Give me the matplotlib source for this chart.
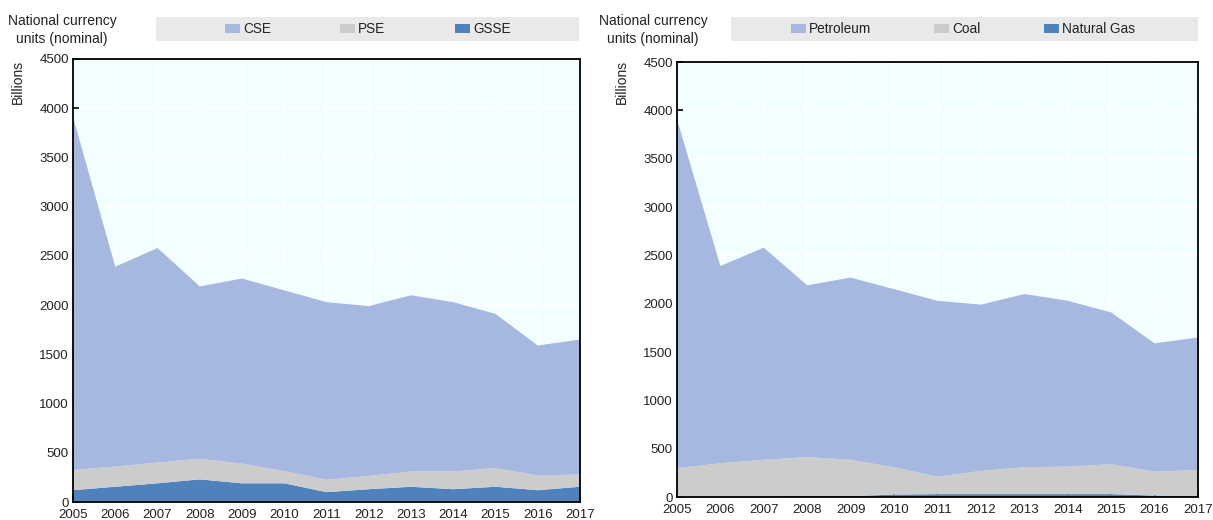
import matplotlib
matplotlib.use('Agg')
import matplotlib.pyplot as plt
from matplotlib.patches import Rectangle

years = list(range(2005, 2018))

# left panel: support by category (billions)
gsse = [120, 155, 190, 230, 190, 190, 100, 130, 155, 130, 155, 120, 155]
pse = [205, 205, 210, 210, 200, 125, 125, 135, 155, 180, 190, 150, 125]
cse = [3585, 2030, 2180, 1750, 1880, 1835, 1805, 1725, 1790, 1720, 1565, 1320, 1370]

# right panel: support by fuel (billions)
gas = [2, 3, 8, 10, 10, 25, 30, 30, 30, 30, 30, 15, 12]
coal = [296, 347, 377, 403, 375, 283, 180, 240, 278, 285, 310, 247, 268]
petroleum = [3612, 2040, 2195, 1777, 1885, 1842, 1820, 1720, 1792, 1715, 1570, 1328, 1370]

col_top = '#A7B8E0'
col_mid = '#CCCCCC'
col_bot = '#4F81BD'

plt.rcParams['font.family'] = ['Liberation Sans', 'DejaVu Sans']

fig = plt.figure(figsize=(12.13, 5.2), dpi=100)
W, H = 1213.0, 520.0

# axes rect, stacked series (bottom -> top), legend names (top, mid, bottom),
# legend box x-range, legend patch x positions, unit text x, "Billions" x
panels = [
    ([0.0602, 0.0346, 0.418, 0.852], [gsse, pse, cse], ['CSE', 'PSE', 'GSSE'],
     (156, 579), [225, 340, 455], 62, 18),
    ([0.5581, 0.0442, 0.4295, 0.8365], [gas, coal, petroleum], ['Petroleum', 'Coal', 'Natural Gas'],
     (731, 1198), [791, 934, 1044], 653, 622),
]

for rect, series, names, (lx0, lx1), px, tx, bx in panels:
    ax = fig.add_axes(rect)
    ax.set_facecolor('#F2FEFF')
    ax.set_axisbelow(True)
    ax.stackplot(years, series[0], series[1], series[2],
                 colors=[col_bot, col_mid, col_top], linewidth=0)
    ax.set_xlim(2005, 2017)
    ax.set_ylim(0, 4500)
    ax.set_xticks(years)
    ax.set_yticks(range(0, 4501, 500))
    ax.grid(True, color='white', linewidth=1.2)
    for s in ax.spines.values():
        s.set_color('black')
        s.set_linewidth(1.3)
    ax.tick_params(direction='in', length=4, width=1.2, color='black',
                   labelsize=9.5, labelcolor='#222222', pad=3)
    ax.tick_params(axis='x', pad=5)

    # grey legend bar
    fig.patches.append(Rectangle((lx0 / W, 1 - 41 / H), (lx1 - lx0) / W, 24 / H,
                                 transform=fig.transFigure, facecolor='#E9E9E9',
                                 edgecolor='none'))
    for x0, name, c in zip(px, names, [col_top, col_mid, col_bot]):
        fig.patches.append(Rectangle((x0 / W, 1 - 33 / H), 15 / W, 9 / H,
                                     transform=fig.transFigure, facecolor=c,
                                     edgecolor='none'))
        fig.text((x0 + 18) / W, 1 - 29 / H, name, ha='left', va='center',
                 fontsize=9.8, color='#222222')

    fig.text(tx / W, 1 - 30 / H, 'National currency\nunits (nominal)',
             ha='center', va='center', fontsize=10, color='#222222',
             linespacing=1.3)
    fig.text(bx / W, 1 - 82 / H, 'Billions', rotation=90,
             ha='center', va='center', fontsize=10, color='#222222')

fig.savefig('out.png', dpi=100)
